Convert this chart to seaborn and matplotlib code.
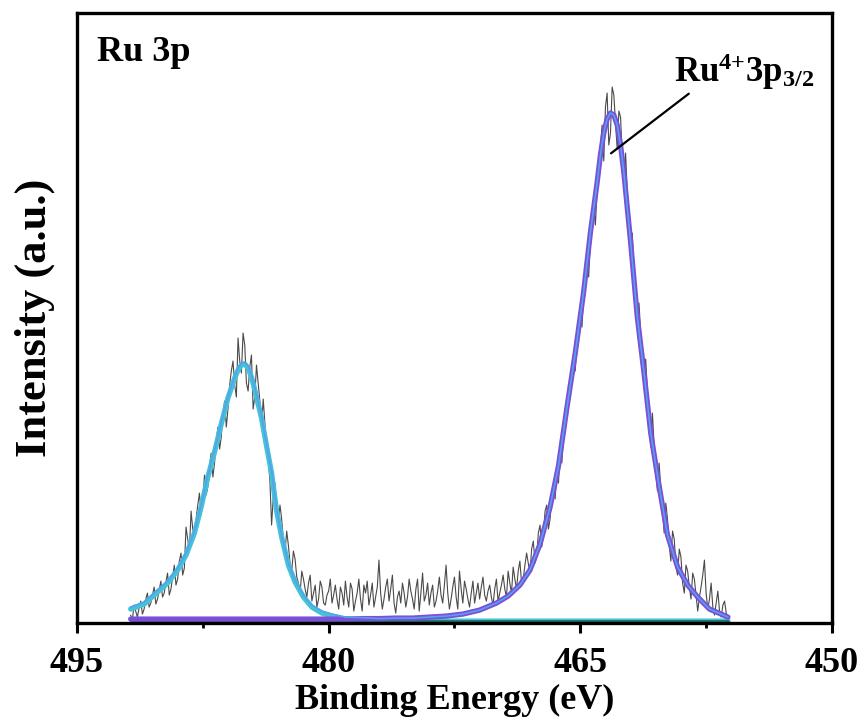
import numpy as np
import pandas as pd
import matplotlib
matplotlib.use("Agg")
import matplotlib.pyplot as plt
import matplotlib.ticker as mticker
import seaborn as sns

# ── raw Ru 3p spectrum, 0.1 eV steps from 491.8 down to 456.2 eV ─────────────
raw_counts = [
    8, 3, 18, 12, 6, 15, 22, 9, 14, 24, 30, 16, 20, 28, 36, 19, 24, 33, 42, 26,
    30, 41, 50, 28, 34, 46, 58, 38, 44, 62, 70, 48, 55, 96, 84, 72, 112, 94, 86, 104,
    118, 130, 108, 122, 148, 128, 136, 158, 170, 146, 160, 182, 196, 174, 186, 210, 222, 196, 214, 238,
    252, 262, 238, 226, 285, 262, 250, 290, 278, 240, 232, 256, 268, 214, 226, 258, 240, 222, 196, 224,
    200, 178, 164, 142, 98, 126, 140, 116, 100, 118, 104, 84, 70, 92, 78, 60, 52, 72, 64, 46,
    40, 30, 52, 44, 34, 26, 40, 48, 22, 30, 38, 16, 24, 42, 36, 20, 18, 28, 32, 44,
    20, 28, 38, 24, 14, 36, 30, 18, 42, 26, 16, 40, 34, 12, 22, 30, 44, 24, 12, 38,
    30, 42, 18, 28, 40, 16, 26, 36, 63, 30, 14, 24, 36, 44, 22, 34, 48, 20, 10, 26,
    32, 20, 40, 30, 16, 26, 44, 32, 24, 14, 34, 44, 12, 30, 50, 22, 28, 40, 18, 30,
    38, 16, 22, 32, 46, 28, 20, 38, 58, 30, 14, 24, 36, 46, 26, 14, 52, 34, 20, 42,
    34, 24, 16, 30, 42, 20, 30, 40, 24, 36, 46, 28, 22, 32, 38, 26, 18, 34, 44, 22,
    30, 38, 48, 34, 26, 52, 40, 30, 56, 44, 34, 52, 62, 40, 44, 58, 70, 60, 50, 74,
    82, 60, 66, 90, 98, 76, 88, 112, 118, 94, 104, 128, 136, 124, 150, 140, 172, 160, 186, 200,
    222, 216, 236, 254, 266, 252, 282, 300, 308, 296, 326, 348, 362, 346, 380, 404, 420, 398, 430, 452,
    476, 498, 462, 516, 530, 478, 490, 536, 528, 500, 474, 512, 506, 468, 440, 470, 432, 400, 374, 390,
    352, 318, 296, 320, 290, 262, 240, 264, 232, 200, 176, 210, 178, 150, 132, 160, 134, 112, 90, 120,
    104, 78, 62, 92, 84, 56, 48, 74, 66, 40, 30, 58, 52, 36, 24, 50, 44, 28, 12, 26,
    36, 48, 63, 30, 14, 24, 40, 16, 8, 20, 32, 12, 6, 18, 22, 10, 4,
]
raw_energy = np.linspace(491.8, 456.2, len(raw_counts))

# ── fitted components ─────────────────────────────────────────────────────────
fit_energy = [
    491.8, 491.0, 490.2, 489.6, 489.0, 488.5, 488.0, 487.6, 487.2, 486.8,
    486.4, 486.0, 485.6, 485.4, 485.2, 485.0, 484.8, 484.6, 484.4, 484.0,
    483.7, 483.4, 483.1, 482.8, 482.4, 482.0, 481.5, 481.0, 480.4, 479.8,
    479.0, 478.0, 477.0, 476.0, 475.0, 474.0, 473.0, 472.0, 471.0, 470.0,
    469.3, 468.6, 468.0, 467.4, 466.8, 466.3, 465.8, 465.3, 464.8, 464.4,
    464.0, 463.8, 463.6, 463.4, 463.2, 463.0, 462.8, 462.6, 462.4, 462.0,
    461.6, 461.2, 460.8, 460.3, 459.8, 459.2, 458.6, 458.0, 457.3, 456.6,
    456.2,
]
peak1_fit = [
    14, 19, 31, 40, 53, 68, 90, 116, 146, 171,
    199, 225, 245, 253, 258, 259, 255, 246, 233, 205,
    177, 150, 112, 86, 58, 41, 26, 16, 10, 7,
    4, 3, 2, 2, 2, 2, 2, 2, 2, 2,
    2, 2, 2, 2, 2, 2, 2, 2, 2, 2,
    2, 2, 2, 2, 2, 2, 2, 2, 2, 2,
    2, 2, 2, 2, 2, 2, 2, 2, 2, 2,
    2,
]
peak2_fit = [
    4, 4, 4, 4, 4, 4, 4, 4, 4, 4,
    4, 4, 4, 4, 4, 4, 4, 4, 4, 4,
    4, 4, 4, 4, 4, 4, 4, 4, 4, 4,
    4, 4.5, 4.5, 5, 5, 6, 7, 9, 13, 20,
    27, 38, 53, 79, 116, 157, 215, 270, 331, 390,
    440, 468, 490, 504, 510, 508, 498, 478, 450, 381,
    306, 250, 190, 137, 88, 56, 38, 26, 14, 9,
    6,
]
background = [2] * len(fit_energy)

fits = pd.DataFrame({"E": fit_energy, "p1": peak1_fit, "p2": peak2_fit, "bg": background})
fits["env"] = fits["p1"] + fits["p2"] - fits["bg"]
raw = pd.DataFrame({"E": raw_energy, "I": raw_counts})

# ── style ─────────────────────────────────────────────────────────────────────
sns.set_theme(style="ticks")
plt.rcParams["font.family"] = ["Liberation Serif", "DejaVu Serif"]
plt.rcParams["font.weight"] = "bold"
plt.rcParams["text.color"] = "black"
plt.rcParams["axes.labelcolor"] = "black"
plt.rcParams["xtick.color"] = "black"
plt.rcParams["mathtext.fontset"] = "custom"
plt.rcParams["mathtext.rm"] = "Liberation Serif:bold"
plt.rcParams["mathtext.it"] = "Liberation Serif:bold"
plt.rcParams["mathtext.bf"] = "Liberation Serif:bold"

fig = plt.figure(figsize=(8.63, 7.22), dpi=100)
ax = fig.add_axes([0.0892, 0.137, 0.8748, 0.845])

sns.lineplot(data=raw, x="E", y="I", ax=ax, color="#4a4a4a", lw=0.8)
sns.lineplot(data=fits, x="E", y="p1", ax=ax, color="#45C3D6", lw=3.8)
sns.lineplot(data=fits, x="E", y="bg", ax=ax, color="#1E6E64", lw=2.0)
sns.lineplot(data=fits, x="E", y="p2", ax=ax, color="#7B4FD6", lw=3.8)
sns.lineplot(data=fits, x="E", y="env", ax=ax, color="#56A0F0", lw=1.2)

ax.set_xlim(495, 450)
ax.set_ylim(0, 610)
ax.xaxis.set_major_locator(mticker.MultipleLocator(15))
ax.xaxis.set_minor_locator(mticker.MultipleLocator(7.5))
ax.set_yticks([])
ax.tick_params(axis="x", which="major", direction="out", length=7, width=2.2,
               labelsize=26, pad=10, colors="black")
ax.tick_params(axis="x", which="minor", direction="out", length=3.5, width=2.0)
for lab in ax.get_xticklabels():
    lab.set_fontweight("bold")
for sp in ax.spines.values():
    sp.set_visible(True)
    sp.set_linewidth(2.4)
    sp.set_color("black")

ax.set_xlabel("Binding Energy (eV)", fontsize=26, fontweight="bold", labelpad=3)
ax.set_ylabel("Intensity (a.u.)", fontsize=32, fontweight="bold", labelpad=16)

ax.text(0.026, 0.921, "Ru 3p", transform=ax.transAxes, fontsize=26,
        fontweight="bold", va="baseline", ha="left")
ax.text(459.4, 541, r"Ru$^{4{+}}$3p$_{3/2}$", fontsize=25, fontweight="bold",
        va="baseline", ha="left")
ax.annotate("", xy=(463.3, 468), xytext=(458.4, 531),
            arrowprops=dict(arrowstyle="-", color="black", lw=1.6))

fig.savefig("out.png", dpi=100)
